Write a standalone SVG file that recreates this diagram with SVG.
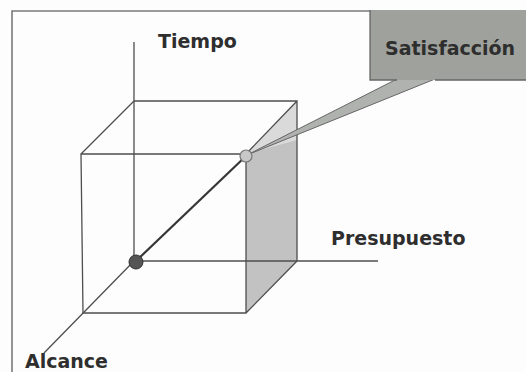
<svg xmlns="http://www.w3.org/2000/svg" width="526" height="372" viewBox="0 0 526 372">
<style>
.edge{stroke:#4e4e4e;stroke-width:1.3;fill:none}
.axis{stroke:#4e4e4e;stroke-width:1.3;fill:none}
.lbl{font-family:"DejaVu Sans",Verdana,sans-serif;font-weight:bold;font-size:19px;fill:#2e2e2e}
</style>
<rect x="0" y="0" width="526" height="372" fill="#fdfdfd"/>
<g id="frame">
<path d="M12,372 V11 H370" stroke="#7a7a7a" stroke-width="1.6" fill="none"/>
</g>
<g id="cube">
<polygon points="246,154 297,101 297,261 246,313" fill="#c2c2c2"/>
<polygon points="246,154 297,101 297,140" fill="#dadada"/>
<path class="edge" d="M134,101 H297 V261 M81,154 H246 V313 H83 Z M81,154 L134,101 M246,154 L297,101 M246,313 L297,261"/>
</g>
<g id="connectors">
<line class="axis" x1="134" y1="42" x2="134" y2="261"/>
<line class="axis" x1="134" y1="261" x2="378" y2="261"/>
<line class="axis" x1="134" y1="261" x2="44" y2="353"/>
<line x1="136" y1="261" x2="246" y2="156" stroke="#363636" stroke-width="2.2"/>
</g>
<g id="satisfaccion">
<polygon points="397,79 247,155 435,79" fill="#b0b2b0" stroke="#666" stroke-width="1"/>
<rect x="370" y="10" width="160" height="70" fill="#9ea19c"/>
<path d="M370,10 V80 H397 M435,80 H526" stroke="#666" stroke-width="1.3" fill="none"/>
<text class="lbl" x="385" y="55" fill="#363636">Satisfacción</text>
</g>
<g id="points">
<circle cx="136" cy="262" r="7" fill="#555" stroke="#333" stroke-width="1"/>
<circle cx="246" cy="156" r="6" fill="#c8c8c8" stroke="#777" stroke-width="1.2"/>
</g>
<g id="labels">
<text class="lbl" x="158" y="48">Tiempo</text>
<text class="lbl" x="331" y="245">Presupuesto</text>
<text class="lbl" x="25" y="368">Alcance</text>
</g>
</svg>
